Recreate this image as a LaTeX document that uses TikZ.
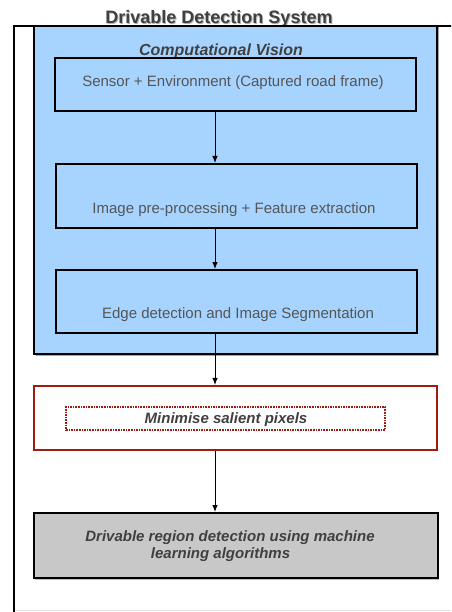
\documentclass[tikz,border=0pt]{standalone}
\usepackage{fontspec}
\setmainfont{Liberation Sans}
\usetikzlibrary{shadows,arrows.meta,positioning}
\definecolor{visionBlue}{RGB}{166,212,255}
\definecolor{salientRed}{RGB}{160,28,18}
\definecolor{regionGray}{RGB}{200,200,200}
\definecolor{labelGray}{RGB}{64,64,64}
\definecolor{textGray}{RGB}{85,85,85}

\tikzset{
  stagebox/.style={draw=black, line width=2pt, fill=visionBlue, minimum width=361pt, inner sep=0pt},
  stagetext/.style={text=textGray, font=\fontsize{15}{17}\selectfont},
  boldtext/.style={text=labelGray, font=\fontsize{15}{17}\selectfont\bfseries\itshape, align=center},
  arr/.style={-{Latex[length=7pt,width=5.5pt]}, line width=0.9pt, black}
}

\begin{document}
\begin{tikzpicture}[x=1pt,y=-1pt]

  \useasboundingbox (0,0) rectangle (451,612);
  \clip (0,0) rectangle (451,612);

  \def\spineX{215}

  % draw the system frame
  \draw [line width=1.5pt] (14,640) -- (14,26) -- (470,26);
  \draw [black!12, line width=1pt] (15,610.5) -- (451,610.5);
  \node [text=black!30, font=\fontsize{18}{20}\selectfont\bfseries] (titleshade) at (220,20) {Drivable Detection System};
  \node [text=labelGray, font=\fontsize{18}{20}\selectfont\bfseries] (title) at (219,19) {Drivable Detection System};

  % draw the vision block
  \node [draw=black, line width=2pt, fill=visionBlue, minimum width=403pt, minimum height=328pt,
         drop shadow={shadow xshift=1.5pt, shadow yshift=-1.5pt, fill=black!35, opacity=1}] (vision) at (235.5,190) {};
  \node [text=labelGray, font=\fontsize{16}{18}\selectfont\bfseries\itshape] (visionlabel) at (221,51) {Computational Vision};

  \node [stagebox, minimum height=53pt] (sensor) at (235.5,84.5) {};
  \node [stagetext] (sensortext) at (233,82.5) {Sensor + Environment (Captured road frame)};

  \node [stagebox, minimum height=64pt] (prep) at (236,196) {};
  \node [stagetext] (preptext) at (234,209.5) {Image pre-processing + Feature extraction};

  \node [stagebox, minimum height=63pt] (edge) at (236,301.5) {};
  \node [stagetext] (edgetext) at (238,315) {Edge detection and Image Segmentation};

  % draw the salient block
  \node [draw=salientRed, line width=2.2pt, fill=white, minimum width=403pt, minimum height=64pt] (salient) at (235.5,418) {};
  \node [draw=salientRed, densely dotted, line width=1.6pt, minimum width=319pt, minimum height=23pt, inner sep=0pt] (salientbox) at (225.5,418.5) {};
  \node [boldtext] (salienttext) at (226,420) {Minimise salient pixels};

  % draw the region block
  \node [draw=black, line width=2pt, fill=regionGray, minimum width=404pt, minimum height=65pt,
         drop shadow={shadow xshift=1.5pt, shadow yshift=-1.5pt, fill=black!25, opacity=1}] (region) at (235.5,545.5) {};
  \node [boldtext] (regiontext) at (230,546) {Drivable region detection using machine\\learning algorithms\hspace*{19pt}};

  % draw the arrows
  \coordinate (spine) at (\spineX,0);
  \draw [arr] (sensor.south -| spine) -- (prep.north -| spine);
  \draw [arr] (prep.south -| spine) -- (edge.north -| spine);
  \draw [arr] (edge.south -| spine) -- (salient.north -| spine);
  \draw [arr] (salient.south -| spine) -- (region.north -| spine);

\end{tikzpicture}
\end{document}
